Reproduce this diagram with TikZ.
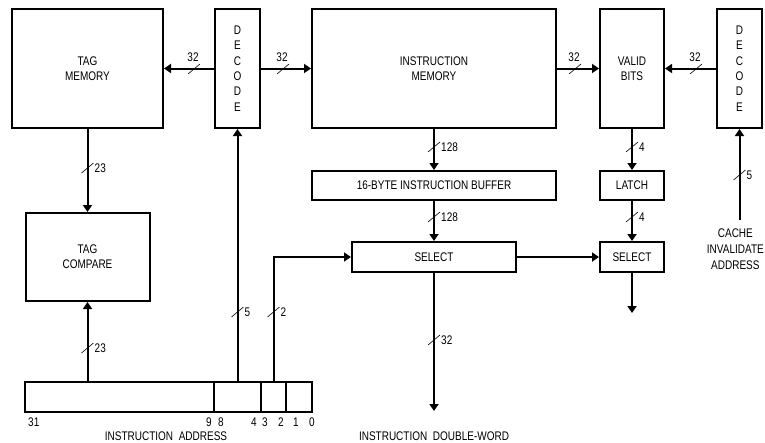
\documentclass[tikz,border=0pt]{standalone}
\usepackage{fontspec}
\newfontfamily\cadfont{Liberation Sans}[FakeStretch=0.8]
\usetikzlibrary{arrows.meta, positioning, calc}
\tikzset{
  blk/.style={draw, line width=2pt, inner sep=0pt, align=center,
              font=\cadfont\fontsize{12.5}{15.3}\selectfont},
  fld/.style={draw, line width=1.8pt, minimum height=30pt, inner sep=0pt, outer sep=0pt},
  wire/.style={-{Triangle[length=7pt, width=9pt]}, line width=2pt},
  tick/.style={line width=0.6pt},
  txt/.style={font=\cadfont\fontsize{12.5}{16}\selectfont, inner sep=0pt, align=center},
}
% bus width marks: slash on the wire, width written above or to the right
\newcommand{\hbus}[3]{\coordinate (#1) at (#2);
  \draw[tick] ($(#1)+(-6,5)$) -- ($(#1)+(6,-5)$);
  \node[txt, anchor=south] (#1l) at ($(#1)+(-1,-7)$) {#3};}
\newcommand{\vbus}[3]{\coordinate (#1) at (#2);
  \draw[tick] ($(#1)+(-6,5)$) -- ($(#1)+(6,-5)$);
  \node[txt, anchor=west] (#1l) at ($(#1)+(7,0)$) {#3};}
\begin{document}
\begin{tikzpicture}[x=1pt, y=-1pt]
  \useasboundingbox (0,0) rectangle (765,442);
  % top row
  \node[blk, minimum width=151pt, minimum height=119pt] (tagmem) at (87.5,68.5) {TAG\\MEMORY};
  \node[blk, minimum width=45pt, minimum height=119pt] (decl) at (237.5,68.5) {D\\E\\C\\O\\D\\E};
  \node[blk, minimum width=244pt, minimum height=119pt] (imem) at (434,68.5) {INSTRUCTION\\MEMORY};
  \node[blk, minimum width=64pt, minimum height=119pt] (valid) at (632,68.5) {VALID\\BITS};
  \node[blk, minimum width=45pt, minimum height=119pt] (decr) at (739.5,68.5) {D\\E\\C\\O\\D\\E};
  % middle
  \node[blk, minimum width=244pt, minimum height=29pt] (buf) at (434,185.5) {16-BYTE INSTRUCTION BUFFER};
  \node[blk, minimum width=64pt, minimum height=29pt] (latch) at (632,185.5) {LATCH};
  \node[blk, minimum width=124pt, minimum height=88pt] (tagcmp) at (87.5,257) {TAG\\COMPARE};
  \node[blk, minimum width=164pt, minimum height=30pt] (selm) at (434,257) {SELECT};
  \node[blk, minimum width=64pt, minimum height=30pt] (selr) at (632,257) {SELECT};
  \node[txt, anchor=north east] (cache) at (764,229) {CACHE\\INVALIDATE\\ADDRESS};
  % instruction address fields
  \node[fld, minimum width=189pt] (f1) at (119.5,397) {};
  \node[fld, minimum width=47pt, right=0pt of f1] (f2) {};
  \node[fld, minimum width=25pt, right=0pt of f2] (f3) {};
  \node[fld, minimum width=26pt, right=0pt of f3] (f4) {};
  \node[txt, anchor=north west] (n31) at ($(f1.south west)+(3,6)$) {31};
  \node[txt, anchor=north east] (n9) at ($(f1.south east)+(-2,6)$) {9};
  \node[txt, anchor=north west] (n8) at ($(f2.south west)+(4,6)$) {8};
  \node[txt, anchor=north east] (n4) at ($(f2.south east)+(-4,6)$) {4};
  \node[txt, anchor=north west] (n3) at ($(f3.south west)+(1,6)$) {3};
  \node[txt, anchor=north east] (n2) at ($(f3.south east)+(-2,6)$) {2};
  \node[txt, anchor=north west] (n1) at ($(f4.south west)+(7,6)$) {1};
  \node[txt, anchor=north] (n0) at ($(f4.south east)+(0,6)$) {0};
  \node[txt] (iaddr) at (166,436) {INSTRUCTION\ \ ADDRESS};
  \node[txt] (dword) at (434,436) {INSTRUCTION\ \ DOUBLE-WORD};
  \coordinate (selmend) at (434,411);
  \coordinate (selrend) at (632,313);
  \coordinate (cachetop) at (739.5,220);
  % connectors
  \draw[wire] (decl) -- (tagmem);
  \draw[wire] (decl) -- (imem);
  \draw[wire] (imem) -- (valid);
  \draw[wire] (decr) -- (valid);
  \draw[wire] (tagmem) -- (tagcmp);
  \draw[wire] (f1.north -| tagcmp) -- (tagcmp);
  \draw[wire] (f2.north) -- (decl);
  \draw[wire] (f3.north) |- (selm.west);
  \draw[wire] (imem) -- (buf);
  \draw[wire] (buf) -- (selm);
  \draw[wire] (valid) -- (latch);
  \draw[wire] (latch) -- (selr);
  \draw[wire] (selm) -- (selr);
  \draw[wire] (selr) -- (selrend);
  \draw[wire] (selm) -- (selmend);
  \draw[wire] (cachetop) -- (decr);
  % bus widths
  \hbus{b1}{194,69}{32}
  \hbus{b2}{283,69}{32}
  \hbus{b3}{575,69}{32}
  \hbus{b4}{696,69}{32}
  \vbus{b5}{87.5,168}{23}
  \vbus{b6}{87.5,348}{23}
  \vbus{b7}{237.5,312}{5}
  \vbus{b8}{273.5,312}{2}
  \vbus{b9}{434,147}{128}
  \vbus{b10}{434,217}{128}
  \vbus{b11}{632,147}{4}
  \vbus{b12}{632,217}{4}
  \vbus{b13}{434,340}{32}
  \vbus{b14}{739.5,175}{5}
\end{tikzpicture}
\end{document}
